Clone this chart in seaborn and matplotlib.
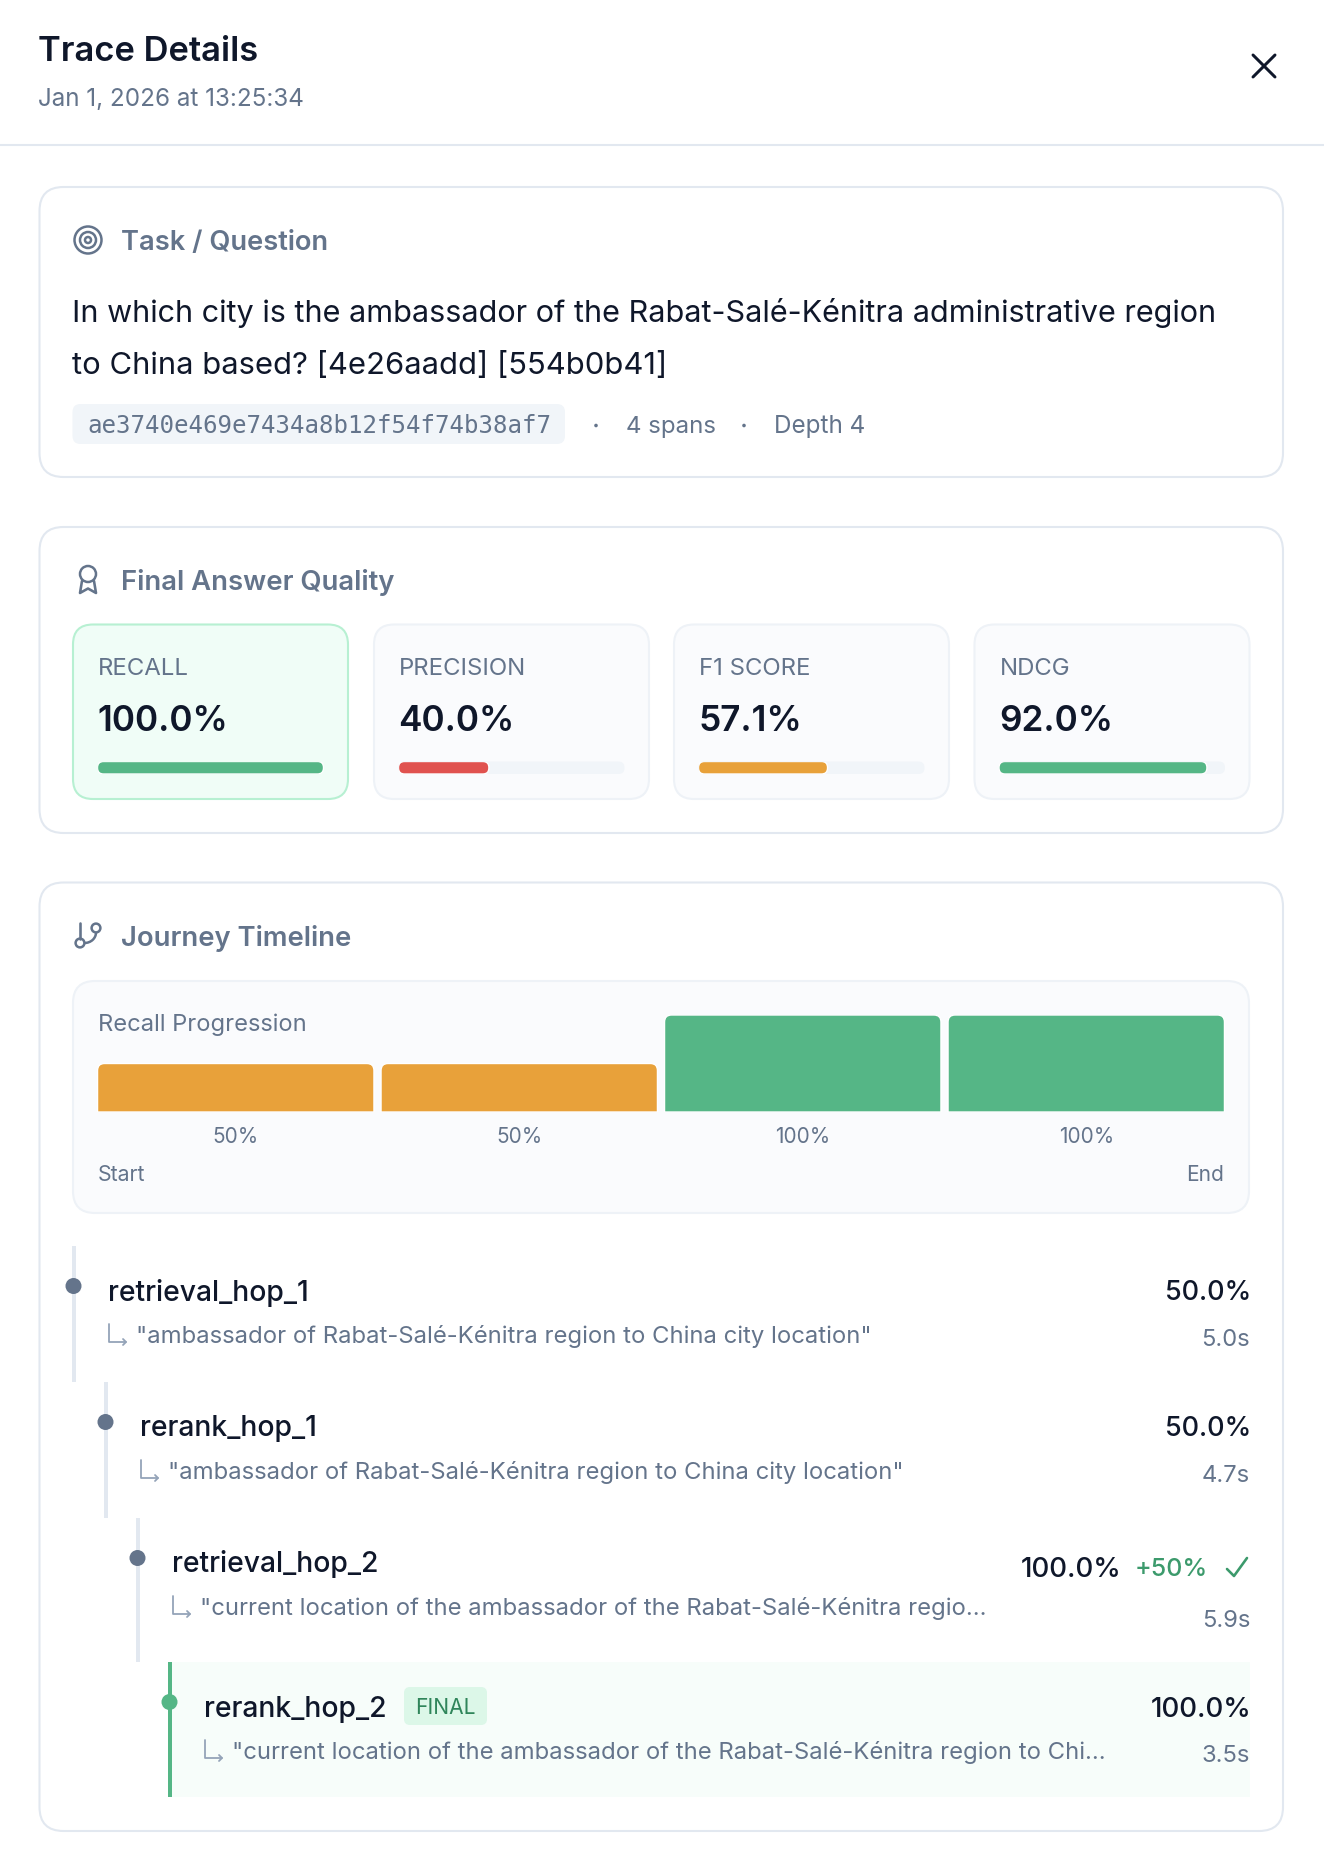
import matplotlib
matplotlib.use("Agg")
import matplotlib.pyplot as plt
from matplotlib.patches import Circle, FancyBboxPatch, Rectangle, Arc
from matplotlib.path import Path
import pandas as pd
import seaborn as sns

W, H = 1324, 1860
DARK = "#0f172a"
SLATE = "#64748b"
LIGHT = "#94a3b8"
BORDER = "#e2e8f0"
GREEN = "#55b686"
ORANGE = "#e8a13a"
RED = "#e0524f"
GAIN = "#3c9a6c"

# Chart values
metric_names = ["RECALL", "PRECISION", "F1 SCORE", "NDCG"]
metric_values = [100.0, 40.0, 57.1, 92.0]
metric_bands = ["good", "bad", "mid", "good"]
band_colors = {"good": GREEN, "mid": ORANGE, "bad": RED}

span_names = ["retrieval_hop_1", "rerank_hop_1", "retrieval_hop_2", "rerank_hop_2"]
span_recall = [50, 50, 100, 100]
span_bands = ["mid", "mid", "good", "good"]
span_times = ["5.0s", "4.7s", "5.9s", "3.5s"]
span_queries = [
    '"ambassador of Rabat-Salé-Kénitra region to China city location"',
    '"ambassador of Rabat-Salé-Kénitra region to China city location"',
    '"current location of the ambassador of the Rabat-Salé-Kénitra regio...',
    '"current location of the ambassador of the Rabat-Salé-Kénitra region to Chi...',
]

sns.set_theme(style="white")
plt.rcParams["font.family"] = ["Inter", "DejaVu Sans"]

fig = plt.figure(figsize=(W / 100, H / 100), dpi=100, facecolor="white")
page = fig.add_axes([0, 0, 1, 1])
page.set_xlim(0, W)
page.set_ylim(H, 0)
page.axis("off")


def label(x, yc, s, size, color=DARK, ha="left", weight="normal", family=None):
    # yc is the middle of the capitals, size in pixels
    return page.text(x, yc + 0.364 * size, s, fontsize=size * 0.72, color=color, ha=ha,
                     va="baseline", weight=weight, family=family)


def box(x0, y0, x1, y1, r, fc, ec="none", lw=0, z=1):
    p = FancyBboxPatch((x0, y0), x1 - x0, y1 - y0, boxstyle=f"round,pad=0,rounding_size={r}",
                       fc=fc, ec=ec, lw=lw, zorder=z, transform=page.transData)
    page.add_patch(p)
    return p


def round_bar(bar, r, bottom=True):
    # the seaborn bar keeps its size, only its outline in unit coordinates changes
    ext = bar.get_window_extent()
    rx = min(r / ext.width, 0.5)
    ry = min(r / ext.height, 0.5)
    if bottom:
        verts = [(rx, 0), (1 - rx, 0), (1, 0), (1, ry)]
        codes = [Path.MOVETO, Path.LINETO, Path.CURVE3, Path.CURVE3]
    else:
        verts = [(0, 0), (1, 0)]
        codes = [Path.MOVETO, Path.LINETO]
    verts += [(1, 1 - ry), (1, 1), (1 - rx, 1), (rx, 1), (0, 1), (0, 1 - ry)]
    codes += [Path.LINETO, Path.CURVE3, Path.CURVE3, Path.LINETO, Path.CURVE3, Path.CURVE3]
    if bottom:
        verts += [(0, ry), (0, 0), (rx, 0), (rx, 0)]
        codes += [Path.LINETO, Path.CURVE3, Path.CURVE3, Path.CLOSEPOLY]
    else:
        verts += [(0, 0)]
        codes += [Path.CLOSEPOLY]
    outline = Path(verts, codes)
    bar.get_path = lambda: outline


def inset(x0, y0, x1, y1):
    ax = fig.add_axes([x0 / W, 1 - y1 / H, (x1 - x0) / W, (y1 - y0) / H])
    ax.patch.set_alpha(0)
    sns.despine(ax=ax, left=True, bottom=True)
    return ax


def line(xs, ys, color=SLATE, lw=2.6):
    page.plot(xs, ys, color=color, lw=lw * 0.72, solid_capstyle="round", solid_joinstyle="round", zorder=4)


# Header
label(38, 48, "Trace Details", 34.5, weight="semibold")
label(38, 97, "Jan 1, 2026 at 13:25:34", 24.2, color=SLATE)
line([1253, 1275], [55, 77], DARK, 3)
line([1275, 1253], [55, 77], DARK, 3)
page.plot([0, W], [145.5, 145.5], color=BORDER, lw=1.5)

# Three outer cards
for top, bottom in [(187, 477), (527, 833), (882.5, 1831)]:
    box(39.5, top, 1283, bottom, 24, "white", BORDER, 1.5)

# Card titles and their icons
label(121, 240, "Task / Question", 27.3, color=SLATE, weight="semibold")
label(121, 580, "Final Answer Quality", 27.5, color=SLATE, weight="semibold")
label(121, 936, "Journey Timeline", 27.4, color=SLATE, weight="semibold")
for r in [13.5, 8, 3]:
    page.add_patch(Circle((88, 240), r, fc="none", ec=SLATE, lw=1.8, zorder=4))
page.add_patch(Circle((88, 574), 8, fc="none", ec=SLATE, lw=1.8, zorder=4))
line([82, 80, 88, 96, 94], [581, 593, 588.5, 593, 581])
page.add_patch(Circle((80, 943), 4.4, fc="none", ec=SLATE, lw=1.8, zorder=4))
page.add_patch(Circle((96, 928), 4.4, fc="none", ec=SLATE, lw=1.8, zorder=4))
line([80, 80], [923, 938.5])
page.add_patch(Arc((84.5, 932.5), 23, 21, theta1=0, theta2=90, ec=SLATE, lw=1.8, zorder=4))

# Task card
label(72, 311, "In which city is the ambassador of the Rabat-Salé-Kénitra administrative region", 30.6)
label(72, 363, "to China based? [4e26aadd] [554b0b41]", 31)
box(72.5, 404, 565, 444, 8, "#f1f5f9")
label(87.5, 424, "ae3740e469e7434a8b12f54f74b38af7", 24.1, color=SLATE, family="DejaVu Sans Mono")
page.add_patch(Circle((596, 425.5), 1.8, fc=SLATE, ec="none"))
page.add_patch(Circle((744, 425.5), 1.8, fc=SLATE, ec="none"))
label(626, 424, "4 spans", 24, color=SLATE)
label(774, 424, "Depth 4", 24.2, color=SLATE)

# Metric cards, the meters are seaborn bars
card_left = [73, 374, 674, 974.5]
for i, name in enumerate(metric_names):
    x0 = card_left[i]
    x1 = x0 + 275
    best = i == 0
    box(x0, 624.5, x1, 799, 20, "#f0fdf7" if best else "#fafbfd", "#b7f0d2" if best else "#eef2f7", 1.5)
    label(x0 + 25, 666, name, 24, color=SLATE)
    label(x0 + 24.5, 718, f"{metric_values[i]:.1f}%", 35.2, weight="semibold")
    mx0, mx1 = x0 + 24.5, x1 - 24.5
    if not best:
        box(mx0, 761.5, mx1, 774, 6, "#f1f5f9", z=2)
    ax = inset(mx0, 761.5, mx1, 774)
    sns.barplot(x=[metric_values[i]], y=[name], color=band_colors[metric_bands[i]], saturation=1, width=1, ax=ax)
    ax.set_xlim(0, 100)
    ax.set_ylim(0.5, -0.5)
    ax.set_axis_off()
    round_bar(ax.patches[0], 6)

# Recall progression panel
box(73, 981, 1249, 1213, 22, "#fafbfd", "#eef2f7", 1.5)
label(98, 1022, "Recall Progression", 23.7, color=SLATE)
label(98, 1173, "Start", 21.3, color=SLATE)
label(1224, 1173, "End", 21, color=SLATE, ha="right")

progress = pd.DataFrame({"span": span_names, "recall": span_recall, "band": span_bands})
ax = inset(94, 1015, 1228, 1112)
sns.barplot(data=progress, x="span", y="recall", hue="band", palette=band_colors, saturation=1,
            width=0.975, legend=False, ax=ax)
ax.set_xlim(-0.5, 3.5)
ax.set_ylim(0, 100)
ax.set_xlabel("")
ax.set_ylabel("")
ax.set_yticks([])
ax.set_xticks(range(len(span_recall)))
ax.set_xticklabels([f"{v}%" for v in span_recall], fontsize=20.8 * 0.72, color=SLATE)
ax.tick_params(axis="x", length=0, pad=11)
for bar in ax.patches:
    if bar.get_height() > 0:
        round_bar(bar, 7, bottom=False)

# Timeline rows
row_top = [1246, 1382, 1518, 1662]
row_bottom = [1382, 1518, 1662, 1797]
title_y = [1290.3, 1425.3, 1561.5, 1706.5]
dot_y = [1286, 1422, 1558, 1702]
query_y = [1334, 1470, 1606, 1750]
pct_y = [1290, 1426, 1567, 1707]
time_y = [1337, 1473, 1618, 1753]
for i, name in enumerate(span_names):
    final = i == len(span_names) - 1
    lx = 73.5 + 32 * i
    if final:
        page.add_patch(Rectangle((lx, row_top[i]), 1250 - lx, row_bottom[i] - row_top[i], fc="#f7fdfa", ec="none", zorder=1))
    page.add_patch(Rectangle((lx - 2, row_top[i]), 4, row_bottom[i] - row_top[i],
                             fc=GREEN if final else BORDER, ec="none", zorder=2))
    page.add_patch(Circle((lx, dot_y[i]), 8, fc=GREEN if final else SLATE, ec="none", zorder=3))
    tx = lx + 34.5
    label(tx, title_y[i], name, 28.3, weight="medium")
    # small corner arrow before the query
    ay = query_y[i]
    line([tx + 1, tx + 1, tx + 18], [ay - 10, ay + 8, ay + 8], LIGHT, 1.8)
    line([tx + 15, tx + 18, tx + 15], [ay + 5, ay + 8, ay + 11], LIGHT, 1.8)
    label(tx + 27.5, query_y[i], span_queries[i], 23.85, color=SLATE)
    pct = f"{span_recall[i]:.1f}%"
    label(1121.5 if i == 2 else 1251, pct_y[i], pct, 27.7 if span_recall[i] == 100 else 27, ha="right", weight="medium")
    label(1250, time_y[i], span_times[i], 23.8, color=SLATE, ha="right")

label(1135, 1567, "+50%", 25, color=GAIN, weight="medium")
line([1227, 1234, 1247], [1569, 1576, 1558], GAIN, 2.6)
box(404, 1687, 487, 1725, 6, "#dcf7e8", z=3)
label(445.5, 1706, "FINAL", 21, color="#2f855a", ha="center").set_zorder(5)

fig.savefig("out.png", dpi=100, facecolor="white")
